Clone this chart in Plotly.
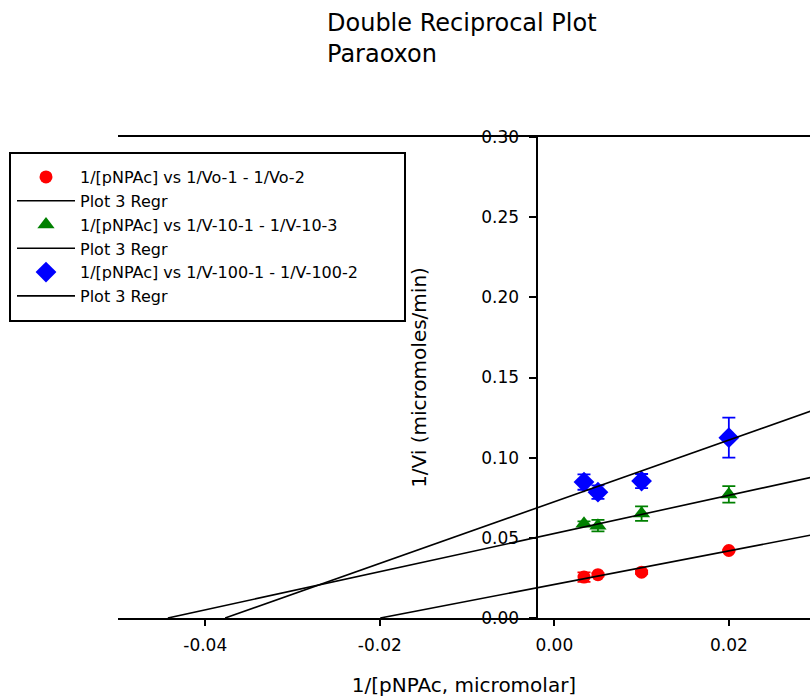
import plotly.graph_objects as go

# ---- data ----
x_conc = [0.0034, 0.005, 0.01, 0.02]          # 1/[pNPAc]
vo_y = [0.0255, 0.0270, 0.0286, 0.0421]
vo_err = [0.0030, 0.0010, 0.0010, 0.0006]
v10_y = [0.0588, 0.0576, 0.0651, 0.0771]
v10_err = [0.0015, 0.0036, 0.0045, 0.0052]
v100_y = [0.0848, 0.0785, 0.0854, 0.1125]
v100_err = [0.0048, 0.0042, 0.0044, 0.0125]

series_names = [
    "1/[pNPAc] vs 1/Vo-1 - 1/Vo-2",
    "1/[pNPAc] vs 1/V-10-1 - 1/V-10-3",
    "1/[pNPAc] vs 1/V-100-1 - 1/V-100-2",
]
regr_name = "Plot 3 Regr"
regr_slope = [1.048, 1.19, 1.922]
regr_intercept = [0.0209, 0.0527, 0.0725]
regr_x_end = 0.03

x_tick_vals = [-0.04, -0.02, 0.0, 0.02]
x_tick_text = ["-0.04", "-0.02", "0.00", "0.02"]
y_tick_vals = [0.0, 0.05, 0.10, 0.15, 0.20, 0.25, 0.30]
y_tick_text = ["0.00", "0.05", "0.10", "0.15", "0.20", "0.25", "0.30"]

title_text = "Double Reciprocal Plot<br>Paraoxon"
x_title = "1/[pNPAc, micromolar]"
y_title = "1/Vi (micromoles/min)"

# ---- styles ----
FONT = "DejaVu Sans"
colors = ["#FF0000", "#008000", "#0000FF"]
symbols = ["circle", "triangle-up", "diamond"]
sizes = [13, 15, 16]
ys = [vo_y, v10_y, v100_y]
errs = [vo_err, v10_err, v100_err]

W, H = 810, 698
ML, MR, MT, MB = 118, 0, 137, 80
X_RANGE = [-0.05, 0.0293]
Y_RANGE = [0.0, 0.30]
Y_AXIS_AT = -0.00193   # data x where the vertical axis is drawn

fig = go.Figure()
for i in range(3):
    fig.add_trace(go.Scatter(
        x=x_conc, y=ys[i], mode="markers", name=series_names[i],
        marker=dict(color=colors[i], symbol=symbols[i], size=sizes[i], line=dict(width=0)),
        error_y=dict(type="data", array=errs[i], visible=True, color=colors[i],
                     thickness=1.8, width=6.5),
    ))
    x0 = -regr_intercept[i] / regr_slope[i]
    lx = [x0, regr_x_end]
    ly = [regr_intercept[i] + regr_slope[i] * v for v in lx]
    fig.add_trace(go.Scatter(
        x=lx, y=ly, mode="lines", name=regr_name,
        line=dict(color="black", width=1.6),
    ))

plot_w = W - ML - MR
plot_h = H - MT - MB
y_axis_pos = (Y_AXIS_AT - X_RANGE[0]) / (X_RANGE[1] - X_RANGE[0])

def px_to_paper_x(px):
    return (px - ML) / plot_w

def px_to_paper_y(py):
    return (H - MB - py) / plot_h

fig.update_layout(
    width=W, height=H,
    margin=dict(l=ML, r=MR, t=MT, b=MB, pad=0, autoexpand=False),
    paper_bgcolor="white", plot_bgcolor="white",
    font=dict(family=FONT, color="black"),
    showlegend=True,
    title=dict(text=title_text, x=327 / W, xref="container", xanchor="left",
               y=1 - 31 / H, yref="container", yanchor="top",
               font=dict(family=FONT, size=24, color="black")),
    xaxis=dict(range=X_RANGE, showgrid=False, zeroline=False,
               showline=True, linecolor="black", linewidth=2, mirror=True,
               ticks="outside", ticklen=6, tickwidth=2, tickcolor="black",
               tickvals=x_tick_vals, ticktext=x_tick_text,
               tickfont=dict(size=17), ticklabelstandoff=5,
               title=dict(text=x_title, font=dict(size=20), standoff=24)),
    yaxis=dict(range=Y_RANGE, showgrid=False, zeroline=False,
               anchor="free", position=y_axis_pos,
               showline=True, linecolor="black", linewidth=2,
               ticks="outside", ticklen=7, tickwidth=2, tickcolor="black",
               tickvals=y_tick_vals, ticktext=y_tick_text,
               tickfont=dict(size=17), ticklabelstandoff=7,
               title=dict(text=y_title, font=dict(size=20), standoff=48)),
    legend=dict(xref="container", yref="container",
                x=12 / W, y=1 - 160 / H, xanchor="left", yanchor="top",
                borderwidth=0, bgcolor="rgba(0,0,0,0)",
                font=dict(family=FONT, size=16, color="black"),
                itemwidth=58, tracegroupgap=0, traceorder="normal"),
    shapes=[dict(type="rect", xref="paper", yref="paper",
                 x0=px_to_paper_x(10), x1=px_to_paper_x(405),
                 y0=px_to_paper_y(321), y1=px_to_paper_y(153),
                 line=dict(color="black", width=2), fillcolor="rgba(0,0,0,0)",
                 layer="above")],
)

fig.write_html("out.html")
